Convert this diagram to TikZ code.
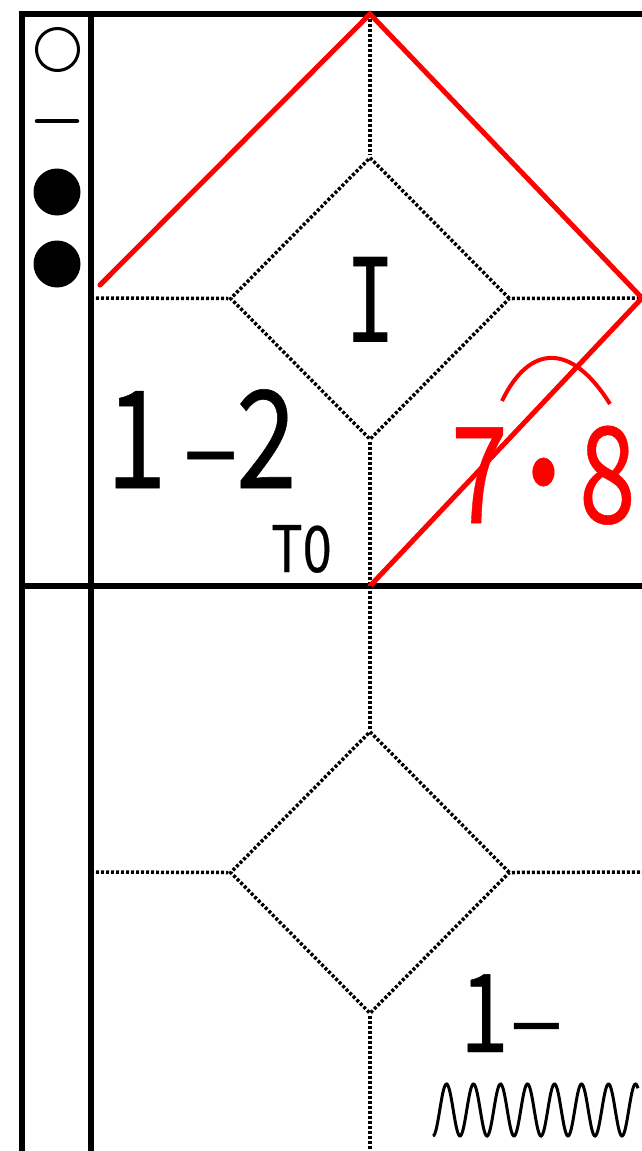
\documentclass[tikz,border=0pt]{standalone}
\usepackage{fontspec}
\newfontfamily\jpfont[FakeBold=0.4]{Noto Sans CJK JP}
\newfontfamily\monofont{DejaVu Sans Mono}
\usetikzlibrary{shapes.geometric}

\begin{document}
\begin{tikzpicture}[x=1pt, y=-1pt,
  frame/.style={line width=6pt},
  dotline/.style={line width=3.5pt, dash pattern=on 3pt off 2pt},
  redline/.style={red, line width=5pt, line cap=round},
  box/.style={diamond, draw, dotline, minimum width=280pt, minimum height=283pt, inner sep=0pt},
  big/.style={font=\jpfont\fontsize{#1}{#1}\selectfont, inner sep=0pt}]
\useasboundingbox (0,0) rectangle (642,1151);

% frame
\draw[frame] (22,1151) -- (22,14) -- (642,14);
\draw[frame] (91,14) -- (91,1151);
\draw[frame] (22,586) -- (642,586);

% left column
\node[circle, draw, line width=3pt, minimum size=42pt, inner sep=0pt] (open) at (57.5,49.5) {};
\draw[line width=4.5pt, line cap=round] (37,121) -- (77,121);
\node[circle, fill, minimum size=47pt, inner sep=0pt] (full1) at (57,192) {};
\node[circle, fill, minimum size=47pt, inner sep=0pt] (full2) at (57,264) {};

% upper cell
\coordinate (top1) at (370,14);
\coordinate (left1) at (91,298);
\coordinate (right1) at (642,298);
\coordinate (bot1) at (370,586);
\node[box] (d1) at (370,298.5) {};
\draw[dotline] (top1) -- (d1.north);
\draw[dotline] (d1.south) -- (bot1);
\draw[dotline] (left1) -- (d1.west);
\draw[dotline] (d1.east) -- (right1);

\draw[redline] (100,285) -- (top1) -- (right1) -- (bot1);
\draw[red, line width=4pt] (502,401) .. controls (530,343) and (572,343) .. (610,404);

\node[font=\monofont\fontsize{117}{117}\selectfont, inner sep=0pt, anchor=base] (num1) at (371,342) {\scalebox{0.72}[1]{I}};
\node[big=136, anchor=base west] (lbl1) at (106,488) {\scalebox{0.8}[1]{1\kern.15em\scalebox{0.95}[0.85]{–}\kern-.02em 2}};
\node[big=64, anchor=base west] (to) at (271,572) {\scalebox{0.82}[1]{T0}};
\node[big=134, anchor=base west, red] (lbl2) at (451,523) {\scalebox{0.76}[1]{7\kern-.15em・\kern-.15em8}};

% lower cell
\coordinate (left2) at (91,872);
\coordinate (right2) at (642,872);
\coordinate (bot2) at (370,1151);
\node[box] (d2) at (370,872.5) {};
\draw[dotline] (bot1) -- (d2.north);
\draw[dotline] (d2.south) -- (bot2);
\draw[dotline] (left2) -- (d2.west);
\draw[dotline] (d2.east) -- (right2);

\node[big=109, anchor=base west] (lbl3) at (460,1052) {\scalebox{0.8}[1]{1\kern.01em\scalebox{1.15}[0.85]{–}}};
\draw[line width=3pt] plot[domain=0:205, samples=240, smooth] ({433+\x},{1110+26*cos(\x*13.3333)});
\end{tikzpicture}
\end{document}
